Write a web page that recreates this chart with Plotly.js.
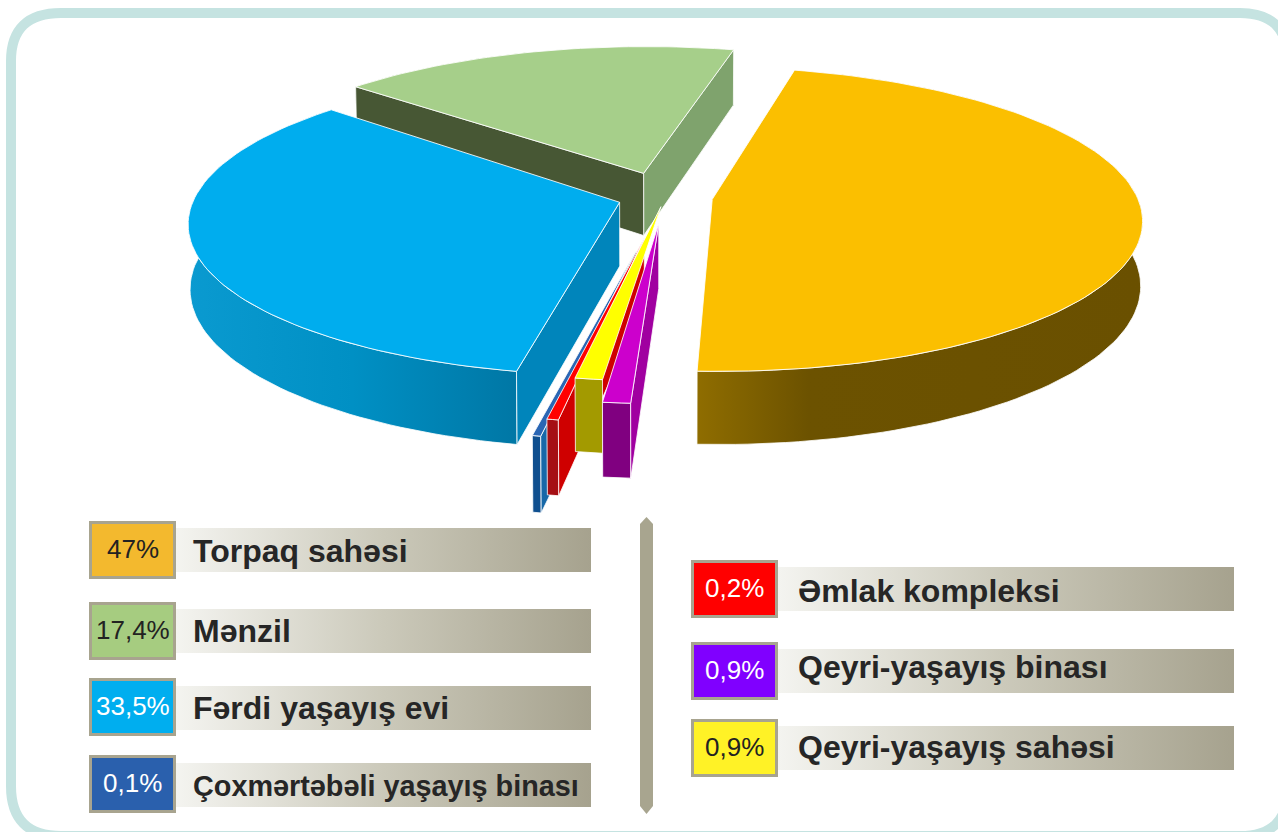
<!DOCTYPE html>
<html><head><meta charset="utf-8">
<script src="https://cdn.plot.ly/plotly-3.0.1.min.js"></script>
<style>html,body{margin:0;padding:0;background:#fff;overflow:hidden}#c{width:1278px;height:832px}</style>
</head><body><div id="c"></div>
<script>
// data, in pie order (clockwise from the gold slice)
const categories = ["Torpaq sahəsi","Qeyri-yaşayış binası","Qeyri-yaşayış sahəsi","Əmlak kompleksi","Çoxmərtəbəli yaşayış binası","Fərdi yaşayış evi","Mənzil"];
const values = [47,0.9,0.9,0.2,0.1,33.5,17.4];
// legend, in reading order
const legendLeft = ["Torpaq sahəsi","Mənzil","Fərdi yaşayış evi","Çoxmərtəbəli yaşayış binası"];
const legendRight = ["Əmlak kompleksi","Qeyri-yaşayış binası","Qeyri-yaşayış sahəsi"];
const pctLeft = ["47%","17,4%","33,5%","0,1%"];
const pctRight = ["0,2%","0,9%","0,9%"];

// styles
const topColors = ["#fbbf00","#cc00cc","#ffff00","#ff0000","#2a66b4","#00adee","#a6cf8a"];
const rimColors = [[[0,"#8f6d00"],[0.25,"#6c5200"],[1,"#6a5000"]],"#800080","#a39a00","#a50f14","#0f4f8f",[[0,"#0a9ad0"],[0.5,"#0090c4"],[1,"#0077a5"]],"#7fa36d"];
const sideStart = [null,"#a000a0",null,"#cf0000","#1768a8","#0085bb","#475734"];
const sideEnd = [null,null,null,null,null,null,"#7fa36d"];
const explode = [0.112,0.175,0.065,0.27,0.35,0.112,0.17];
const twist = [0.8,1.3,1.7,1.4,1.5,2.0,1.1];
const widen = [0,0,0,0.6,0.6,0,0];
const drawOrder = [6,0,5,4,3,2,1];
const swatchLeft = ["#f3b92e","#a6cc80","#00aeef","#2a60ad"];
const swatchRight = ["#ff0000","#8000ff","#fff226"];
const pctColorLeft = ["#222","#222","#fff","#fff"];
const pctColorRight = ["#fff","#fff","#222"];
const labelSizeLeft = [32,32,32,28.8];
const labelSizeRight = [32,32,32];
const labelNudgeLeft = [23,22,22,23];
const labelNudgeRight = [24,18,21];

// projection
const CX=665, CY=197, RX=425, RY=149, P=0.13, H=63.5, T=0.004, START=12.6;
function project(a,b,z){const w=1+P*b;return [CX+(RX*a/w)*(1-T*z), CY-RY*b/w+H*z/w];}
function poly(pts,color,lw,lc){
  const t={type:'scatter',mode:'lines',x:pts.map(p=>p[0]),y:pts.map(p=>p[1]),fill:'toself',hoverinfo:'skip',
    line:{width:lw||0,color:lc||'rgba(255,255,255,0.8)'}};
  if(Array.isArray(color)){t.fillgradient={type:'horizontal',colorscale:color};t.fillcolor='rgba(0,0,0,0)';}
  else t.fillcolor=color;
  return t;
}
const total=values.reduce((s,v)=>s+v,0);
let acc=START; const spans=values.map((v,i)=>{const d=v/total*360;const s=[acc+twist[i]-widen[i]/2,acc+d+twist[i]+widen[i]/2];acc+=d;return s;});
const traces=[];
function slice(i){
  const [a0,a1]=spans[i], mid=(a0+a1)/2*Math.PI/180, e=explode[i];
  const ox=e*Math.sin(mid), oy=e*Math.cos(mid);
  const pt=(deg,z)=>{const r=deg*Math.PI/180;return project(ox+Math.sin(r),oy+Math.cos(r),z);};
  const apex=z=>project(ox,oy,z);
  const arc=[]; const n=Math.max(2,Math.ceil((a1-a0)/1.5));
  for(let k=0;k<=n;k++)arc.push(a0+(a1-a0)*k/n);
  const rim=arc.map(d=>pt(d,0)).concat(arc.slice().reverse().map(d=>pt(d,1)));rim.push(rim[0]);
  traces.push(poly(rim,rimColors[i],1));
  if(sideEnd[i])traces.push(poly([apex(0),pt(a1,0),pt(a1,1),apex(1),apex(0)],sideEnd[i],1));
  if(sideStart[i])traces.push(poly([apex(0),pt(a0,0),pt(a0,1),apex(1),apex(0)],sideStart[i],1));
  const top=[apex(0)].concat(arc.map(d=>pt(d,0)));top.push(apex(0));
  traces.push(poly(top,topColors[i],1,'rgba(255,255,255,0.85)'));
}
drawOrder.forEach(slice);

// legend
const shapes=[], annotations=[];
const BAR=[[0,"#f4f4f0"],[0.5,"#cbc9ba"],[1,"#a6a28e"]];
function legend(labels,pcts,sw,pc,sizes,nudge,x0,tops,barEnd,barTops,tx){
  labels.forEach((l,i)=>{
    const y=barTops[i];
    traces.push(poly([[x0+87,y],[barEnd,y],[barEnd,y+44],[x0+87,y+44],[x0+87,y]],BAR,0));
    shapes.push({type:'rect',xref:'x',yref:'y',x0:x0+1.5,x1:x0+85.5,y0:tops[i]+1.5,y1:tops[i]+56.5,fillcolor:sw[i],line:{color:'#a8a48f',width:3}});
    annotations.push({x:x0+43.5,y:tops[i]+28,xref:'x',yref:'y',text:pcts[i],showarrow:false,font:{family:'Liberation Sans',size:26,color:pc[i]},xanchor:'center',yanchor:'middle'});
    annotations.push({x:x0+tx,y:y+nudge[i],xref:'x',yref:'y',text:l,showarrow:false,font:{family:'Liberation Sans',size:sizes[i],color:'#262626',weight:700},xanchor:'left',yanchor:'middle'});
  });
}
legend(legendLeft,pctLeft,swatchLeft,pctColorLeft,labelSizeLeft,labelNudgeLeft,89,[521,602,678,755],591,[528,609,686,763],102);
legend(legendRight,pctRight,swatchRight,pctColorRight,labelSizeRight,labelNudgeRight,691,[560,642,719],1234,[567,649,726],105);
// frame & divider
shapes.push({type:'path',layer:'below',xref:'x',yref:'y',path:'M 61 13 L 1240 13 Q 1288 13 1288 61 L 1288 788 Q 1288 836 1240 836 L 61 836 Q 11 836 11 786 L 11 61 Q 11 13 61 13 Z',line:{color:'#c5e3e1',width:10},fillcolor:'#ffffff'});
shapes.push({type:'path',layer:'below',xref:'x',yref:'y',path:'M 646.5 517 L 653 524 L 653 806 L 646.5 814 L 640 806 L 640 524 Z',fillcolor:'#a8a58f',line:{width:0}});

Plotly.newPlot('c',traces,{
  width:1278,height:832,margin:{l:0,r:0,t:0,b:0},showlegend:false,
  paper_bgcolor:'#fff',plot_bgcolor:'#fff',
  xaxis:{range:[0,1278],visible:false,fixedrange:true},
  yaxis:{range:[832,0],visible:false,fixedrange:true},
  shapes,annotations
},{displayModeBar:false,staticPlot:true});
</script></body></html>
